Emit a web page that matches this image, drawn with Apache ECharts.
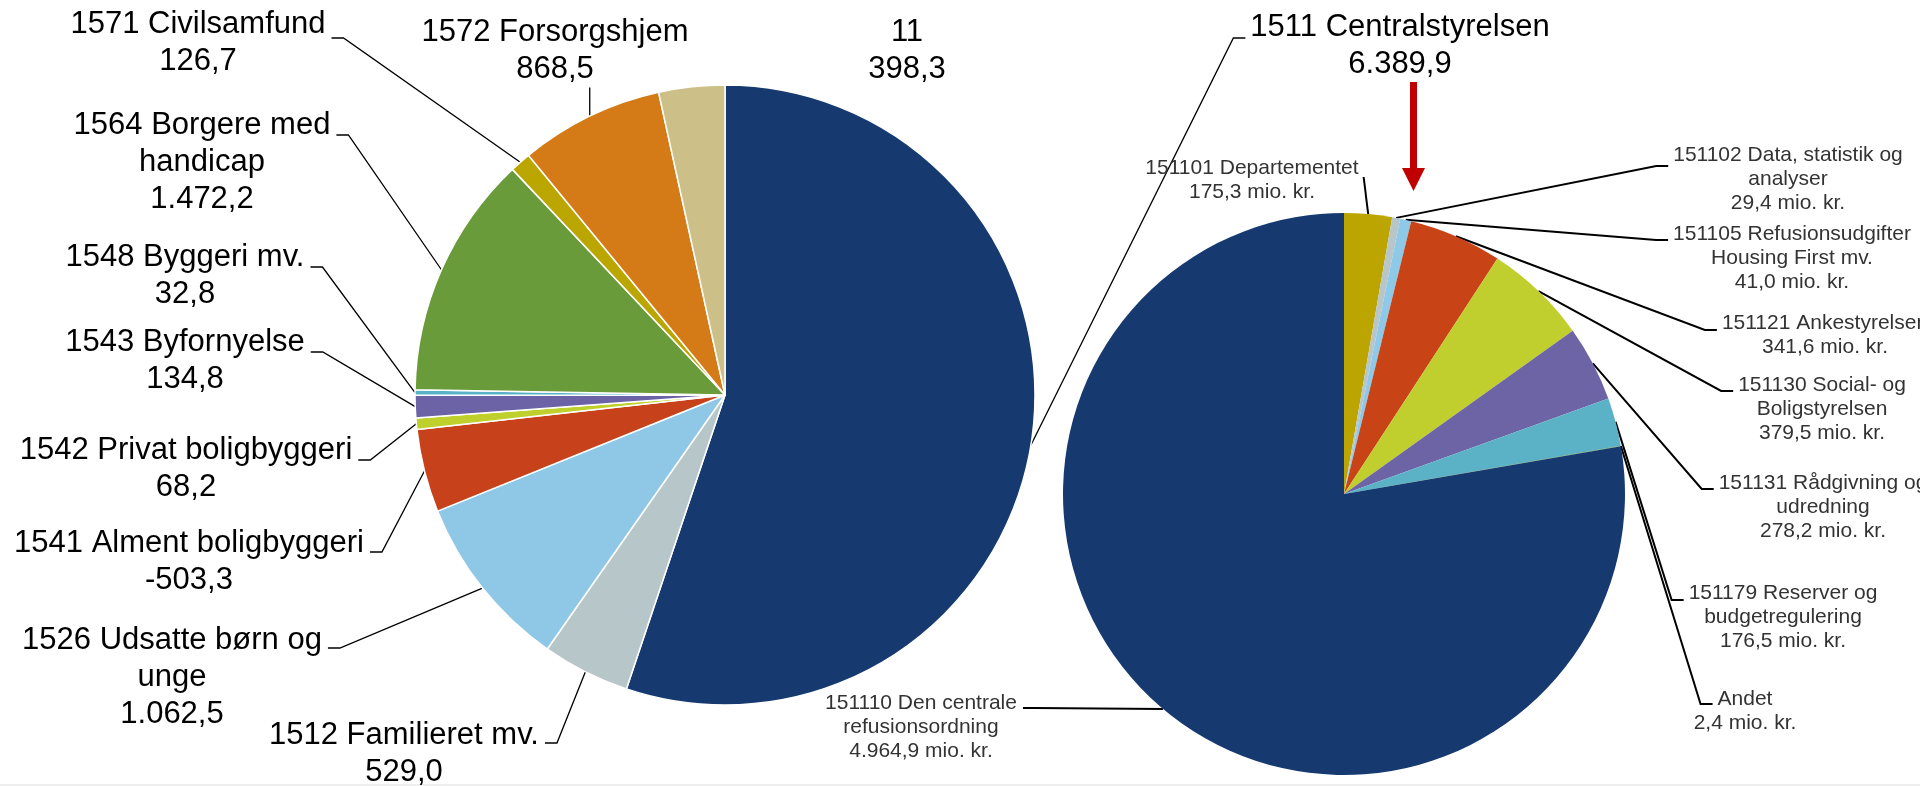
<!DOCTYPE html>
<html><head><meta charset="utf-8">
<script src="https://cdn.jsdelivr.net/npm/echarts@6/dist/echarts.min.js"></script>
<style>html,body{margin:0;padding:0;background:#fff;overflow:hidden}#c{width:1920px;height:786px}</style>
</head><body><div id="c"></div>
<script>
// ---------- data ----------
const leftCategories = ['1511 Centralstyrelsen', '1512 Familieret mv.', '1526 Udsatte børn og\nunge', '1541 Alment boligbyggeri', '1542 Privat boligbyggeri', '1543 Byfornyelse', '1548 Byggeri mv.', '1564 Borgere med\nhandicap', '1571 Civilsamfund', '1572 Forsorgshjem', '11'];
const leftValues = [6389.9, 529.0, 1062.5, -503.3, 68.2, 134.8, 32.8, 1472.2, 126.7, 868.5, 398.3];
const leftColors = ['#163a70', '#b7c6c9', '#8fc8e6', '#c7421a', '#bfcf2c', '#6c63a7', '#5ab2c6', '#6a9b3a', '#bba600', '#d47b18', '#ccc088'];

const rightCategories = ['151101 Departementet', '151102 Data, statistik og\nanalyser', '151105 Refusionsudgifter\nHousing First mv.', '151121 Ankestyrelsen', '151130 Social- og\nBoligstyrelsen', '151131 Rådgivning og\nudredning', '151179 Reserver og\nbudgetregulering', 'Andet', '151110 Den centrale\nrefusionsordning'];
const rightValues = [175.3, 29.4, 41.0, 341.6, 379.5, 278.2, 176.5, 2.4, 4964.9];
const rightColors = ['#bca500', '#b8c6ca', '#8ec9e8', '#c84316', '#c0ce2e', '#6d64a6', '#5bb2c6', '#6a9b3a', '#163a70'];
const rightUnit = ' mio. kr.';

// ---------- layout (positions/styles) ----------
const FONT = "'Liberation Sans', Arial, sans-serif";
const leftStyle = { size: 31, lh: 37, color: '#000' };
const rightStyle = { size: 21, lh: 24, color: '#333' };
// x = centre of label block, y = centre of first text line, dy = offset of leader tick
const leftPlace = [
  { x: 1400, y: 27, side: 'left', dy: 11 },
  { x: 404, y: 735, side: 'right', dy: 8 },
  { x: 172, y: 640, side: 'right', dy: 8 },
  { x: 189, y: 543, side: 'right', dy: 9 },
  { x: 186, y: 450, side: 'right', dy: 10 },
  { x: 185, y: 342, side: 'right', dy: 10 },
  { x: 185, y: 257, side: 'right', dy: 10 },
  { x: 202, y: 125, side: 'right', dy: 10 },
  { x: 198, y: 24, side: 'right', dy: 14 },
  { x: 555, y: 32, side: 'below', dy: 0 },
  { x: 907, y: 32, side: 'none', dy: 0 }
];
const rightPlace = [
  { x: 1252, y: 168, side: 'corner', dy: 9 },
  { x: 1788, y: 155, side: 'left', dy: 11 },
  { x: 1792, y: 234, side: 'left', dy: 6 },
  { x: 1825, y: 323, side: 'left', dy: 7 },
  { x: 1822, y: 385, side: 'left', dy: 6 },
  { x: 1823, y: 483, side: 'left', dy: 6 },
  { x: 1783, y: 593, side: 'left', dy: 7 },
  { x: 1745, y: 699, side: 'left', dy: 5 },
  { x: 921, y: 703, side: 'right', dy: 5 }
];

function danish(v) {
  const s = Math.abs(v).toFixed(1).split('.');
  const i = s[0].replace(/\B(?=(\d{3})+(?!\d))/g, '.');
  return (v < 0 ? '-' : '') + i + ',' + s[1];
}
const ctx = document.createElement('canvas').getContext('2d');
function tw(t, size) { ctx.font = size + 'px ' + FONT; return ctx.measureText(t).width; }

function makeLayout(names, place, st) {
  return function (p) {
    const P = place[p.dataIndex];
    const size = P.size || st.size, lh = P.lh || st.lh;
    const w1 = tw(names[p.dataIndex].split('\n')[0], size);
    const out = { x: P.x, y: P.y - lh / 2, align: 'center', verticalAlign: 'top' };
    const pts = p.labelLinePoints;
    if (pts && pts.length && P.side !== 'none') {
      const a = [pts[0][0], pts[0][1]];
      const ty = P.y + P.dy;
      let b, e;
      if (P.side === 'right') { e = [P.x + w1 / 2 + 6, ty]; b = [e[0] + 12, ty]; }
      else if (P.side === 'left') { e = [P.x - w1 / 2 - 5, ty]; b = [e[0] - 12, ty]; }
      else if (P.side === 'corner') { e = [P.x + w1 / 2 + 5, ty]; b = e; }
      else { e = [a[0], P.y + lh * 1.5]; b = e; }
      out.labelLinePoints = [a, [b[0], b[1]], [e[0], e[1]]];
    }
    return out;
  };
}

const leftData = leftCategories.map((n, i) => {
  const d = { name: n, value: Math.abs(leftValues[i]), raw: leftValues[i], itemStyle: { color: leftColors[i] } };
  if (leftPlace[i].side === 'none') d.labelLine = { show: false };
  return d;
});
const rightData = rightCategories.map((n, i) => {
  const d = { name: n, value: rightValues[i], raw: rightValues[i], itemStyle: { color: rightColors[i] } };
  if (rightPlace[i].size) d.label = { fontSize: rightPlace[i].size };
  return d;
});

const chart = echarts.init(document.getElementById('c'), null, { renderer: 'canvas' });
chart.setOption({
  backgroundColor: '#fff',
  animation: false,
  tooltip: { show: false },
  series: [
    {
      type: 'pie', center: [725, 395], radius: 310, startAngle: 90, clockwise: true,
      avoidLabelOverlap: false, silent: true,
      itemStyle: { borderColor: '#fff', borderWidth: 1.5 },
      label: {
        show: true, position: 'outside', fontFamily: FONT, fontSize: leftStyle.size,
        lineHeight: leftStyle.lh, color: leftStyle.color,
        formatter: p => p.name + '\n' + danish(p.data.raw)
      },
      labelLine: { show: true, length: 10, length2: 10, lineStyle: { color: '#000', width: 1.3 } },
      labelLayout: makeLayout(leftCategories, leftPlace, leftStyle),
      emphasis: { disabled: true },
      data: leftData
    },
    {
      type: 'pie', center: [1344, 494], radius: 281, startAngle: 90, clockwise: true,
      avoidLabelOverlap: false, silent: true,
      itemStyle: { borderWidth: 0 },
      label: {
        show: true, position: 'outside', fontFamily: FONT, fontSize: rightStyle.size,
        lineHeight: rightStyle.lh, color: rightStyle.color,
        formatter: p => p.name + '\n' + danish(p.data.raw) + rightUnit
      },
      labelLine: { show: true, length: 10, length2: 10, lineStyle: { color: '#000', width: 2 } },
      labelLayout: makeLayout(rightCategories, rightPlace, rightStyle),
      emphasis: { disabled: true },
      data: rightData
    }
  ],
  graphic: [
    { type: 'rect', shape: { x: 1410, y: 82, width: 7, height: 88 }, style: { fill: '#c00000' }, silent: true },
    { type: 'polygon', shape: { points: [[1402, 168], [1425, 168], [1413.5, 191]] }, style: { fill: '#c00000' }, silent: true },
    { type: 'rect', shape: { x: 0, y: 784, width: 1920, height: 2 }, style: { fill: '#eeeeee' }, silent: true }
  ]
});
</script>
</body></html>
